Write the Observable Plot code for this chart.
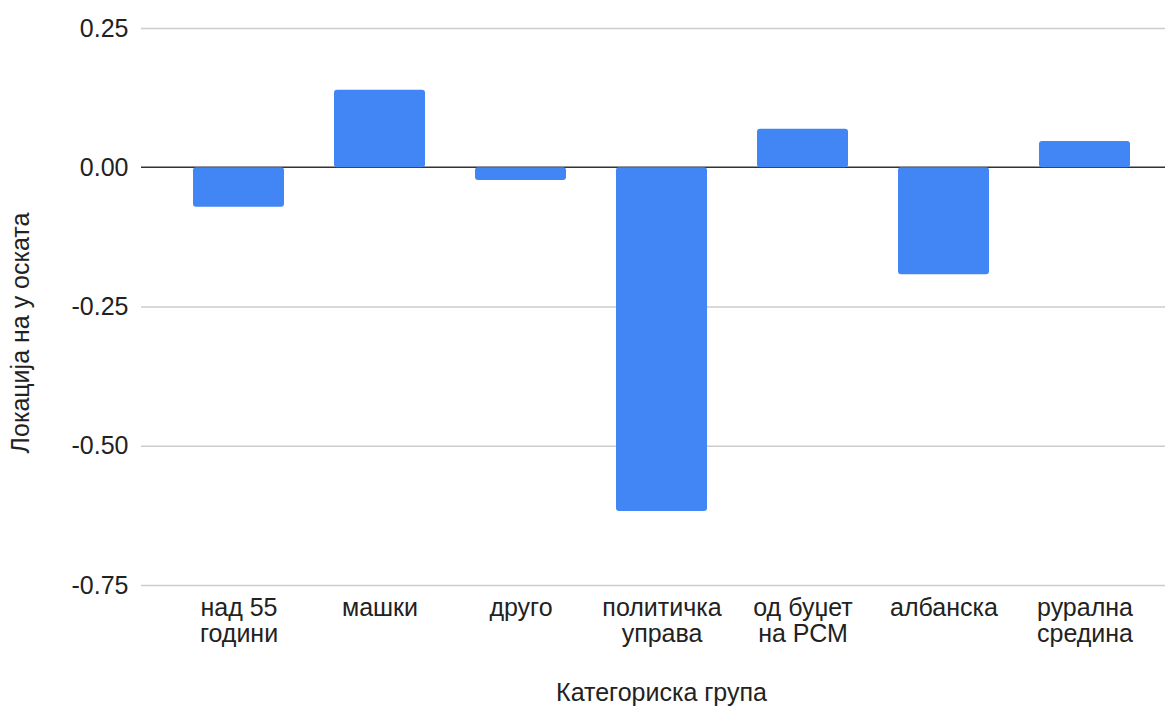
<!DOCTYPE html>
<html><head><meta charset="utf-8">
<script src="https://cdn.jsdelivr.net/npm/d3@7"></script>
<script src="https://cdn.jsdelivr.net/npm/@observablehq/plot@0.6"></script>
<style>body{margin:0;background:#fff}</style>
</head><body><div id="chart"></div>
<script>
const categories = ["над 55 години", "машки", "друго", "политичка управа", "од буџет на РСМ", "албанска", "рурална средина"];
const tickLabels = ["над 55\nгодини", "машки", "друго", "политичка\nуправа", "од буџет\nна РСМ", "албанска", "рурална\nсредина"];
const values = [-0.071, 0.139, -0.023, -0.617, 0.069, -0.192, 0.047];
const yTicks = [0.25, 0, -0.25, -0.5, -0.75];
const xTitle = "Категориска група";
const yTitle = "Локација на у оската";

const data = categories.map((c, i) => ({category: c, value: values[i]}));
const labelMap = new Map(categories.map((c, i) => [c, tickLabels[i]]));

const chart = Plot.plot({
  width: 1167, height: 708,
  marginLeft: 141, marginRight: 2, marginTop: 28, marginBottom: 123,
  style: {fontFamily: "'Liberation Sans', Arial, sans-serif", fontSize: "25px", color: "#222", background: "#fff", overflow: "visible"},
  x: {domain: categories, insetLeft: 25.5, insetRight: 8.3, paddingInner: 0.355, paddingOuter: 0.1775, label: null},
  y: {domain: [-0.75, 0.25], ticks: yTicks, label: null},
  marks: [
    Plot.ruleY(yTicks.filter(d => d !== 0), {stroke: "#cccccc", strokeWidth: 1.3}),
    Plot.ruleY([0], {stroke: "#333333", strokeWidth: 1.6, dy: -0.5}),
    Plot.barY(data, {x: "category", y: "value", fill: "#4285f4", rx: 3}),
    Plot.axisY({ticks: yTicks, tickFormat: d => d.toFixed(2), tickSize: 0, tickPadding: 13, label: null, fontSize: 25}),
    Plot.axisX({tickSize: 0, tickFormat: d => labelMap.get(d), tickPadding: 12, lineHeight: 1.04, label: null, fontSize: 25}),
    Plot.text([xTitle], {frameAnchor: "bottom", dx: 8, dy: 115, fontSize: 25, fill: "#222"}),
    Plot.text([yTitle], {frameAnchor: "left", textAnchor: "middle", rotate: -90, dx: -121, dy: 26, fontSize: 25, fill: "#222"})
  ]
});
document.getElementById("chart").appendChild(chart);
</script>
</body></html>
